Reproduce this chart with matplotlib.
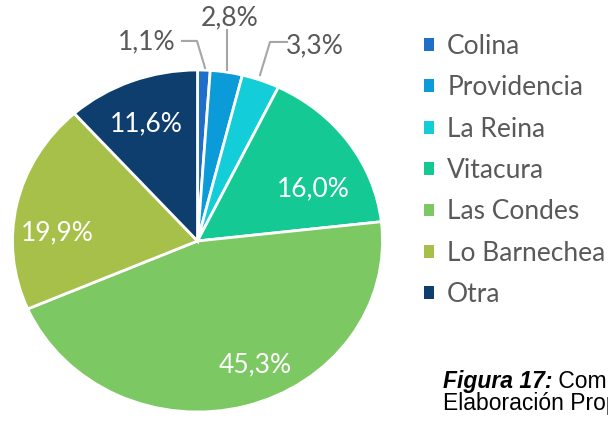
import matplotlib.pyplot as plt
from matplotlib.patches import Patch

# data
comunas = ["Colina", "Providencia", "La Reina", "Vitacura", "Las Condes", "Lo Barnechea", "Otra"]
shares = [1.1, 2.8, 3.3, 16.0, 45.3, 19.9, 11.6]
colors = ["#1F6FC8", "#0A9BD8", "#13CDD8", "#14C993", "#7CC862", "#A6C04A", "#0E3E6E"]

# label positions (pie coords, radius 1) and leader lines for the small slices
label_pos = [(-0.273, 1.164), (0.176, 1.304), (0.635, 1.14),
             (0.624, 0.304), (0.311, -0.725), (-0.759, 0.047), (-0.278, 0.684)]
leaders = {0: [(-0.084, 1.170), (-0.003, 1.170), (0.041, 1.012)],
           1: [(0.159, 1.234), (0.159, 1.0)],
           2: [(0.484, 1.164), (0.392, 1.164), (0.338, 0.971)]}

plt.rcParams['font.family'] = ['Lato', 'DejaVu Sans']

fig = plt.figure(figsize=(6.08, 4.4), dpi=100)
# the original pie is stretched horizontally, so use a non-square axes
ax = fig.add_axes([12.5 / 608, 28 / 440, 370 / 608, 342 / 440])

wedges, _ = ax.pie(shares, colors=colors, startangle=90, counterclock=False,
                   wedgeprops=dict(edgecolor="white", linewidth=2))
ax.set_aspect('auto')
ax.set_xlim(-1, 1)
ax.set_ylim(-1, 1)

for i, v in enumerate(shares):
    txt = f"{v:.1f}".replace('.', ',') + '%'
    x, y = label_pos[i]
    col = "#595959" if i in leaders else "white"
    ax.text(x, y, txt, ha='center', va='center', fontsize=19, color=col, clip_on=False)
    if i in leaders:
        xs, ys = zip(*leaders[i])
        ax.plot(xs, ys, color="#A6A6A6", lw=1.5, clip_on=False)

handles = [Patch(facecolor=c, edgecolor='none') for c in colors]
fig.legend(handles, comunas, loc='upper left', bbox_to_anchor=(424 / 608, 1 - 34 / 440),
           frameon=False, fontsize=19, labelcolor="#595959",
           handlelength=0.38, handleheight=0.38, handletextpad=0.5, labelspacing=0.62,
           borderaxespad=0, borderpad=0)

# caption, cut at the right edge as in the original
cap1 = fig.text(443 / 608, 1 - 381 / 440, "Figura 17:", fontsize=16.5, va='center', ha='left',
                family='Liberation Sans', weight='bold', style='italic')
ax.annotate(" Comuna de residencia", xy=(1, 0.5), xycoords=cap1, va='center', ha='left',
            fontsize=16.5, family='Liberation Sans')
fig.text(443 / 608, 1 - 403 / 440, "Elaboración Propia", fontsize=16.5, va='center',
         ha='left', family='Liberation Sans')

fig.savefig("out.png", dpi=100)
